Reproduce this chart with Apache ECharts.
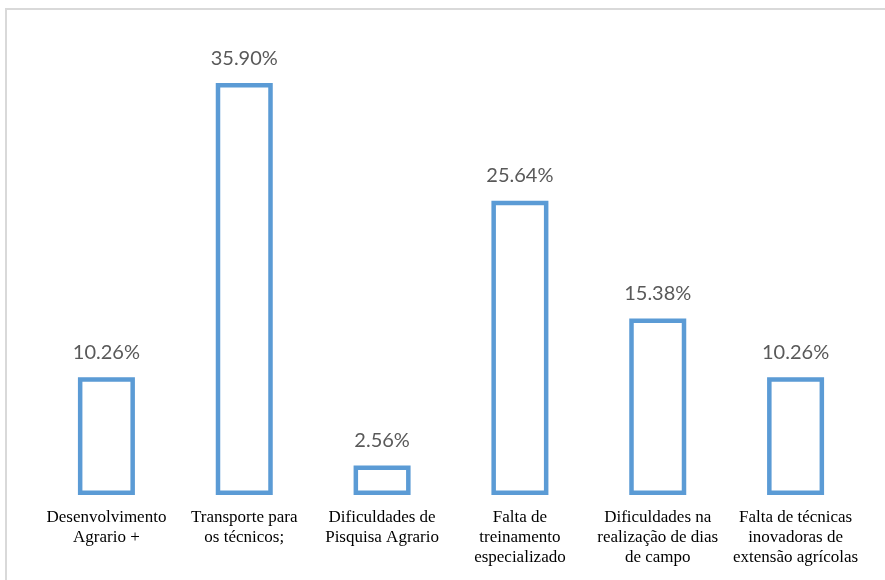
<!DOCTYPE html>
<html>
<head>
<meta charset="utf-8">
<script src="https://cdn.jsdelivr.net/npm/echarts@6/dist/echarts.min.js"></script>
<style>
  html, body { margin: 0; padding: 0; background: #fff; }
  #chart { width: 885px; height: 580px; }
</style>
</head>
<body>
<div id="chart"></div>
<script>
// Categories (multi-line labels) and percentage values
const categories = [
  'Desenvolvimento\nAgrario +',
  'Transporte para\nos técnicos;',
  'Dificuldades de\nPisquisa Agrario',
  'Falta de\ntreinamento\nespecializado',
  'Dificuldades na\nrealização de dias\nde campo',
  'Falta de técnicas\ninovadoras de\nextensão agrícolas'
];
const percentages = [10.26, 35.90, 2.56, 25.64, 15.38, 10.26];

const chart = echarts.init(document.getElementById('chart'));

chart.setOption({
  backgroundColor: '#ffffff',
  animation: false,
  graphic: [
    { type: 'line', shape: { x1: 5, y1: 9, x2: 885, y2: 9 }, style: { stroke: '#d9d9d9', lineWidth: 2 } },
    { type: 'line', shape: { x1: 6, y1: 9, x2: 6, y2: 580 }, style: { stroke: '#d9d9d9', lineWidth: 2 } }
  ],
  grid: { left: 37.5, right: 20.5, top: 36, bottom: 85, containLabel: false },
  xAxis: {
    type: 'category',
    data: categories,
    axisLine: { show: false },
    axisTick: { show: false },
    axisLabel: {
      interval: 0,
      margin: 13,
      color: '#000000',
      fontFamily: 'Liberation Serif, DejaVu Serif, serif',
      fontSize: 17,
      lineHeight: 20,
      align: 'center'
    }
  },
  yAxis: {
    type: 'value',
    min: 0,
    max: 40,
    show: false,
    splitLine: { show: false }
  },
  series: [{
    type: 'bar',
    data: percentages,
    barWidth: 57,
    itemStyle: {
      color: '#ffffff',
      borderColor: '#5B9BD5',
      borderWidth: 4.5
    },
    label: {
      show: true,
      position: 'top',
      distance: 15,
      color: '#595959',
      fontFamily: 'Lato, Open Sans, sans-serif',
      fontSize: 20,
      formatter: p => p.value.toFixed(2) + '%'
    }
  }]
});
</script>
</body>
</html>
